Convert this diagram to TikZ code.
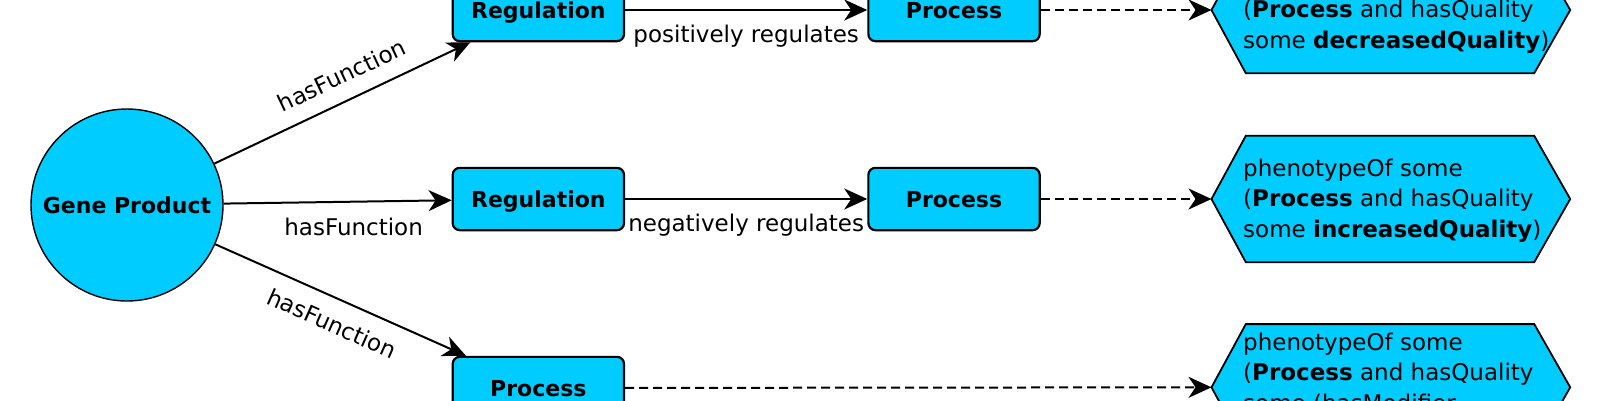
\documentclass[tikz,border=0pt]{standalone}
\usepackage{fontspec}
\setmainfont{DejaVu Sans}
\usetikzlibrary{arrows.meta,calc}
\definecolor{nodecyan}{RGB}{0,204,255}
\begin{document}
\begin{tikzpicture}[x=1pt,y=-1pt,
  every node/.style={font=\fontsize{23}{30.5}\selectfont},
  gene/.style={circle,draw=black,line width=1.4pt,fill=nodecyan,minimum size=192pt,inner sep=0pt,
    font=\fontsize{22}{26}\selectfont\bfseries,text height=16pt,text depth=0pt},
  box/.style={rectangle,rounded corners=7pt,draw=black,line width=2.2pt,fill=nodecyan,
    minimum width=171.3pt,minimum height=62.3pt,inner sep=0pt,
    font=\fontsize{22}{26}\selectfont\bfseries,text height=16pt,text depth=0pt},
  hexcore/.style={rectangle,minimum width=288pt,minimum height=126pt,inner sep=0pt},
  hexshape/.style={draw=black,line width=1.8pt,fill=nodecyan,line join=miter},
  hextext/.style={anchor=north west,align=left,inner sep=0pt},
  rel/.style={line width=2pt,-{Stealth[length=23pt,width=21pt,inset=7pt]}},
  imp/.style={rel,dash pattern=on 9pt off 5pt},
  lab/.style={inner sep=0pt,text=black},
]
\useasboundingbox (0,0) rectangle (1600,400);
\fill[white] (0,0) rectangle (1600,400);
\clip (0,0) rectangle (1600,400);

% nodes
\node[gene] (gp) at (127,205) {Gene Product};
\node[box] (reg1) at (538.35,10) {Regulation};
\node[box] (reg2) at (538.35,199) {Regulation};
\node[box] (proc3) at (538.35,388) {Process};
\node[box] (proc1) at (954,10) {Process};
\node[box] (proc2) at (954,199) {Process};

% hexagons
\node[hexcore] (h1) at (1390,10) {};
\node[hexcore] (h2) at (1390,199) {};
\node[hexcore] (h3) at (1390,387.3) {};
\foreach \h in {h1,h2,h3}{
  \coordinate (\h w) at ($(\h.west)+(-34.3,0)$);
  \coordinate (\h e) at ($(\h.east)+(36,0)$);
  \draw[hexshape] (\h.north west) -- (\h.north east) -- (\h e) -- (\h.south east)
    -- (\h.south west) -- (\h w) -- cycle;
}
\node[hextext] (t1) at (1243,-30.5) {phenotypeOf some\\(\textbf{Process} and hasQuality\\some \textbf{decreasedQuality})};
\node[hextext] (t2) at (1243,158.5) {phenotypeOf some\\(\textbf{Process} and hasQuality\\some \textbf{increasedQuality})};
\node[hextext] (t3) at (1243,332.5) {phenotypeOf some\\(\textbf{Process} and hasQuality\\some (hasModifier};

% connectors
\draw[rel] (gp) -- node[lab,sloped,above=15.5pt,pos=0.54] {hasFunction} (reg1);
\draw[rel] (gp) -- node[lab,below=15pt,pos=0.57] {hasFunction} (reg2);
\draw[rel] (gp) -- node[lab,sloped,below=15pt,pos=0.505] {hasFunction} (proc3);
\draw[rel] (reg1) -- node[lab,below=14pt] {positively regulates} (proc1);
\draw[rel] (reg2) -- node[lab,below=14pt] {negatively regulates} (proc2);
\draw[imp] (proc1) -- (h1w);
\draw[imp] (proc2) -- (h2w);
\draw[imp] (proc3) -- (h3w);
\end{tikzpicture}
\end{document}
